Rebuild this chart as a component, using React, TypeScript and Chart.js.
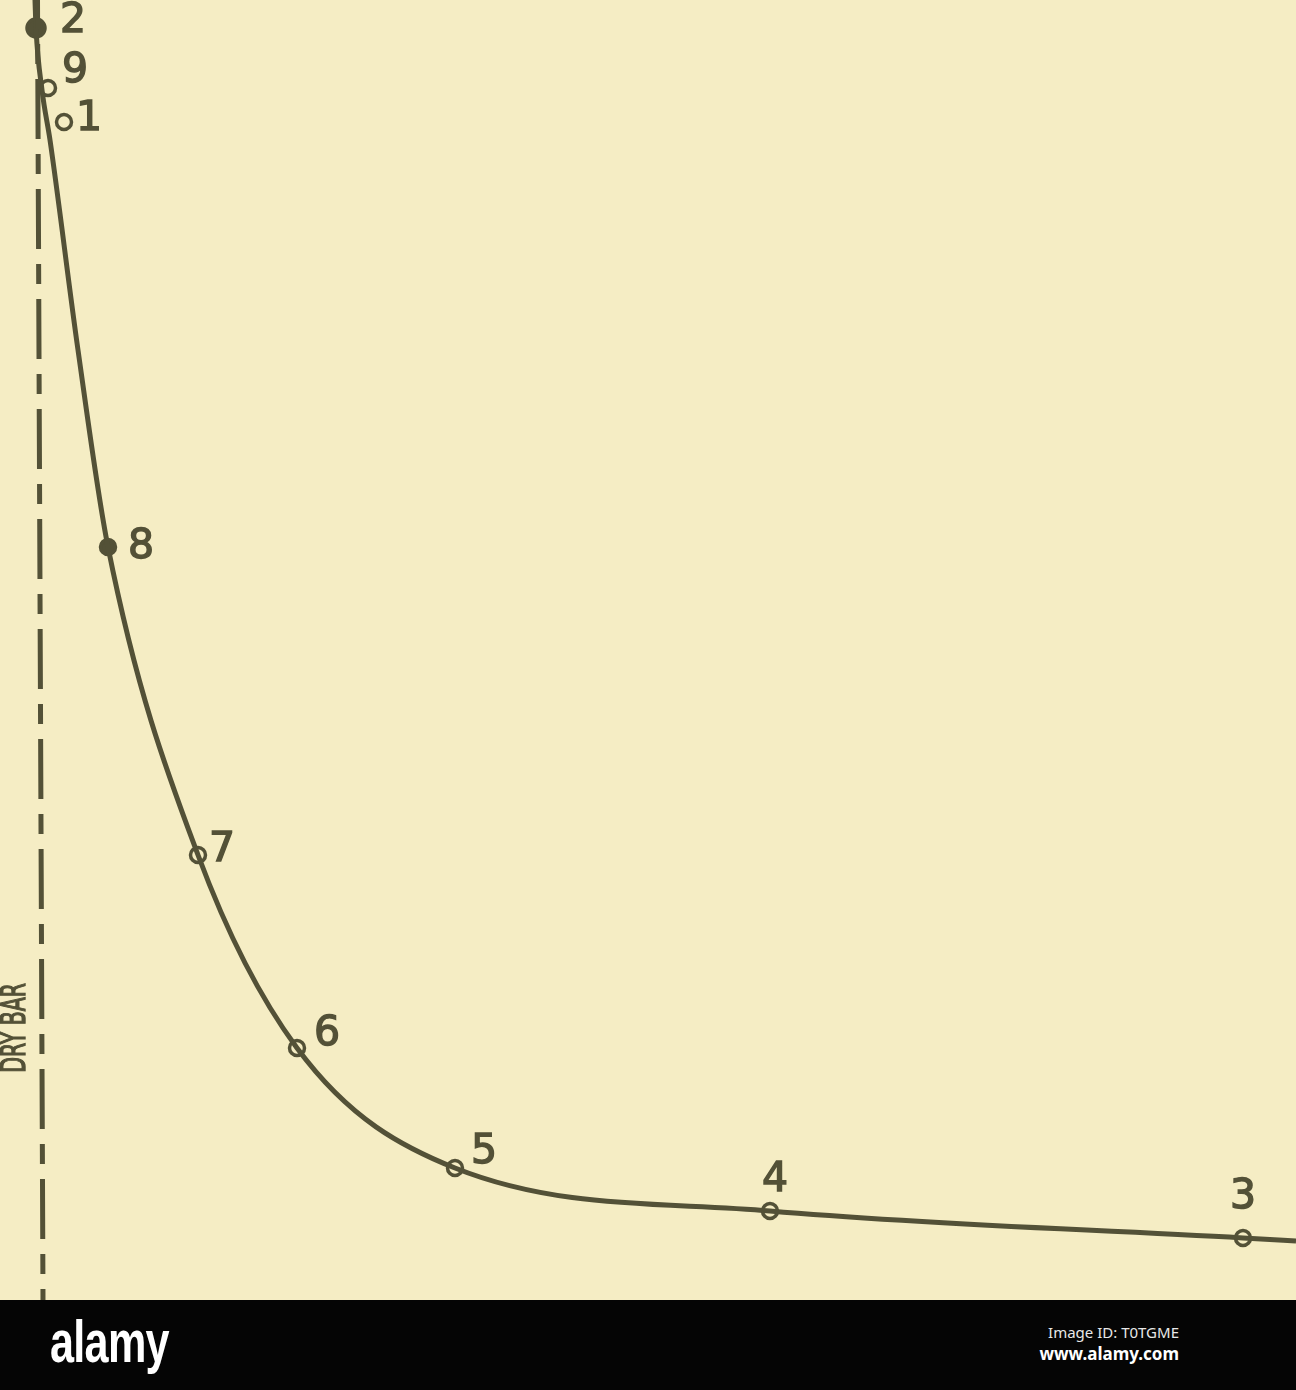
import React, { useEffect, useRef } from "react";
import { Chart, registerables } from "chart.js";

Chart.register(...registerables);

// Curve traced through the drying points (x: time-like units, y: weight-like units)
const CURVE_X = [3.5, 3.6, 4.2, 5.0, 7.8, 10.8, 19.8, 29.7, 45.5, 77.0, 124.3, 129.6];
const CURVE_Y = [130.0, 127.2, 121.0, 116.0, 95.0, 75.3, 44.5, 25.2, 13.2, 8.9, 6.2, 5.9];

// Numbered observation points
const POINT_LABELS = ["2", "9", "1", "8", "7", "6", "5", "4", "3"];
const POINT_X = [3.6, 4.8, 6.4, 10.8, 19.8, 29.7, 45.5, 77.0, 124.3];
const POINT_Y = [127.2, 121.2, 117.8, 75.3, 44.5, 25.2, 13.2, 8.9, 6.2];
const POINT_FILLED = [true, false, false, true, false, false, false, false, false];

// "Dry bar" reference line
const DRY_X = [3.75, 4.3];
const DRY_Y = [130, 0];
const DRY_LABEL = "DRY BAR";

// label placement (pixel offsets from each point)
const LABEL_OFFSETS: [number, number][] = [
  [37, -7], [27, -17], [25, -3], [33, 0], [24, -5], [30, -14], [29, -16], [5, -31], [0, -41],
];

const BG = "#f5edc4";
const INK = "#535137";

export default function App() {
  const ref = useRef<HTMLCanvasElement | null>(null);

  useEffect(() => {
    document.body.style.margin = "0";
    const canvas = ref.current;
    if (!canvas) return;

    const labelPlugin = {
      id: "pointLabels",
      beforeDraw(chart: any) {
        const { ctx } = chart;
        ctx.save();
        ctx.fillStyle = BG;
        ctx.fillRect(0, 0, chart.width, chart.height);
        ctx.restore();
      },
      afterDatasetsDraw(chart: any) {
        const { ctx, scales } = chart;
        ctx.save();
        ctx.fillStyle = INK;
        ctx.strokeStyle = INK;
        ctx.lineWidth = 1.4;
        ctx.font = "41px 'DejaVu Sans'";
        ctx.textAlign = "center";
        ctx.textBaseline = "middle";
        POINT_LABELS.forEach((lab, i) => {
          const px = scales.x.getPixelForValue(POINT_X[i]) + LABEL_OFFSETS[i][0];
          const py = scales.y.getPixelForValue(POINT_Y[i]) + LABEL_OFFSETS[i][1];
          ctx.fillText(lab, px, py);
          ctx.strokeText(lab, px, py);
        });
        // DRY BAR label, rotated, just left of the dry bar line
        const yv = 27.2;
        const t = (DRY_Y[0] - yv) / (DRY_Y[0] - DRY_Y[1]);
        const xv = DRY_X[0] + (DRY_X[1] - DRY_X[0]) * t;
        const lx = scales.x.getPixelForValue(xv) - 26;
        const ly = scales.y.getPixelForValue(yv);
        ctx.translate(lx, ly);
        ctx.rotate(-Math.PI / 2);
        ctx.scale(0.6, 1);
        ctx.font = "34px 'DejaVu Sans'";
        ctx.lineWidth = 1.4;
        ctx.fillText(DRY_LABEL, 0, 0);
        ctx.strokeText(DRY_LABEL, 0, 0);
        ctx.restore();
      },
    };

    const chart = new Chart(canvas, {
      type: "scatter",
      data: {
        datasets: [
          {
            data: DRY_X.map((x, i) => ({ x, y: DRY_Y[i] })),
            showLine: true,
            borderColor: INK,
            borderWidth: 5,
            borderDash: [60, 15, 20, 15],
            borderDashOffset: 31,
            pointRadius: 0,
            clip: false,
          } as any,
          {
            data: CURVE_X.map((x, i) => ({ x, y: CURVE_Y[i] })),
            showLine: true,
            borderColor: INK,
            borderWidth: 5,
            cubicInterpolationMode: "monotone",
            pointRadius: 0,
            clip: false,
          } as any,
          {
            data: POINT_X.map((x, i) => ({ x, y: POINT_Y[i] })),
            showLine: false,
            pointRadius: POINT_FILLED.map((f, i) => (i === 0 ? 9 : 7.5)),
            pointBorderWidth: 3.5,
            pointBorderColor: INK,
            pointBackgroundColor: POINT_FILLED.map((f) => (f ? INK : BG)),
            clip: false,
          } as any,
        ],
      },
      options: {
        animation: false,
        responsive: false,
        maintainAspectRatio: false,
        devicePixelRatio: 1,
        layout: { padding: 0, autoPadding: false },
        plugins: { legend: { display: false }, tooltip: { enabled: false } },
        scales: {
          x: { type: "linear", min: 0, max: 129.6, display: false },
          y: { type: "linear", min: 0, max: 130, display: false },
        },
      },
      plugins: [labelPlugin],
    });
    return () => chart.destroy();
  }, []);

  return (
    <div style={{ width: 1296, height: 1390, background: "#050505", position: "relative" }}>
      <canvas ref={ref} width={1296} height={1300} style={{ display: "block", width: 1296, height: 1300 }} />
      <div
        style={{
          position: "absolute",
          left: 50,
          top: 1312,
          color: "#ffffff",
          fontFamily: "'Liberation Sans', 'DejaVu Sans', sans-serif",
          fontWeight: "bold",
          fontSize: 60,
          letterSpacing: -1,
          transform: "scaleX(0.72)",
          transformOrigin: "left top",
          lineHeight: "60px",
        }}
      >
        alamy
      </div>
      <div
        style={{
          position: "absolute",
          right: 117,
          top: 1322,
          color: "#e8e8e8",
          fontFamily: "'Noto Sans', 'Open Sans', sans-serif",
          fontSize: 15,
          textAlign: "right",
          lineHeight: "20px",
        }}
      >
        Image ID: T0TGME
      </div>
      <div
        style={{
          position: "absolute",
          right: 117,
          top: 1343,
          color: "#ffffff",
          fontFamily: "'Noto Sans', 'Open Sans', sans-serif",
          fontWeight: "bold",
          fontSize: 17,
          textAlign: "right",
          lineHeight: "22px",
        }}
      >
        www.alamy.com
      </div>
    </div>
  );
}
